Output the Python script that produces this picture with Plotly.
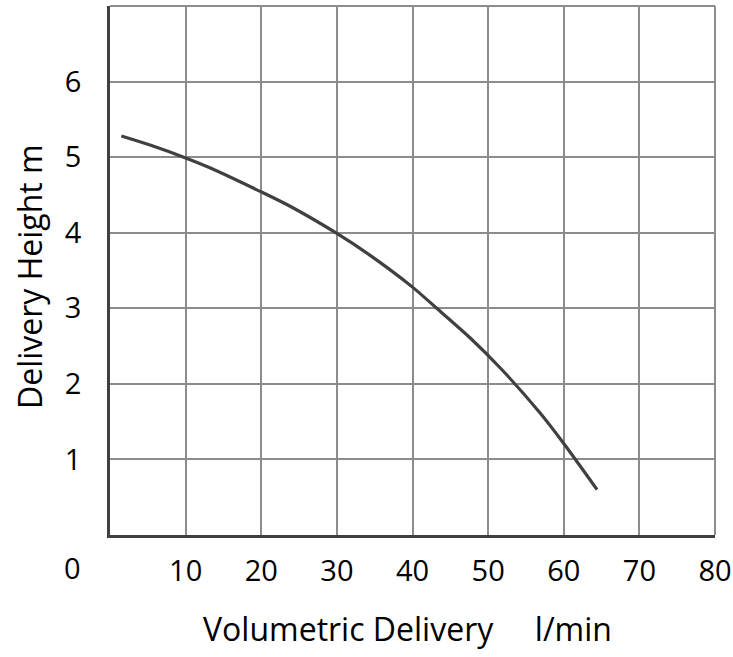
import plotly.graph_objects as go

# Data
flow_lpm = [1.5, 5.3, 10.0, 13.2, 20.0, 24.0, 30.0, 34.4, 40.0, 43.2, 47.6, 51.8, 56.9, 60.0, 64.4]
height_m = [5.28, 5.16, 4.99, 4.86, 4.54, 4.34, 3.99, 3.70, 3.28, 3.00, 2.61, 2.19, 1.61, 1.21, 0.60]

x_tick_vals = [10, 20, 30, 40, 50, 60, 70, 80]
x_tick_text = ["10", "20", "30", "40", "50", "60", "70", "80"]
y_tick_vals = [1, 2, 3, 4, 5, 6]
y_tick_text = ["1", "2", "3", "4", "5", "6"]

FONT = "Open Sans, Liberation Sans, sans-serif"
GRID = "#8c8c8c"
DARK = "#404040"
FS = 29
FT = 32

fig = go.Figure()
fig.add_trace(go.Scatter(
    x=flow_lpm, y=height_m, mode="lines",
    line=dict(color=DARK, width=3.2, shape="spline", smoothing=0.8),
    hoverinfo="skip", showlegend=False,
))

fig.update_layout(
    width=733, height=657,
    margin=dict(l=110, r=18, t=6, b=122, autoexpand=False),
    paper_bgcolor="white", plot_bgcolor="white",
    font=dict(family=FONT, size=FS, color="black"),
    xaxis=dict(
        range=[0, 80], tickvals=x_tick_vals, ticktext=x_tick_text,
        showgrid=True, gridcolor=GRID, gridwidth=1.5,
        showline=True, linecolor=DARK, linewidth=2.5,
        ticks="outside", ticklen=8, tickcolor="rgba(0,0,0,0)",
        zeroline=False, fixedrange=True, automargin=False,
    ),
    yaxis=dict(
        range=[0, 7], tickvals=y_tick_vals, ticktext=y_tick_text,
        showgrid=True, gridcolor=GRID, gridwidth=1.5,
        showline=True, linecolor=DARK, linewidth=2.5,
        ticks="outside", ticklen=20, tickcolor="rgba(0,0,0,0)",
        zeroline=False, fixedrange=True, automargin=False,
    ),
    shapes=[
        dict(type="line", xref="paper", yref="paper", x0=0, x1=1, y0=1, y1=1,
             line=dict(color=GRID, width=2)),
        dict(type="line", xref="paper", yref="paper", x0=1, x1=1, y0=0, y1=1,
             line=dict(color=GRID, width=2)),
    ],
    annotations=[
        dict(text="0", x=0, y=0, xref="x", yref="paper", xanchor="center", yanchor="top",
             xshift=-38, yshift=-11, showarrow=False, font=dict(size=FS)),
        dict(text="Volumetric Delivery\u00a0\u00a0\u00a0\u00a0\u00a0l/min", x=0, y=0,
             xref="paper", yref="paper", xanchor="center", yanchor="middle",
             xshift=297, yshift=-93, showarrow=False, font=dict(size=FT)),
        dict(text="Delivery Height m", x=0, y=0, xref="paper", yref="paper",
             xanchor="center", yanchor="middle", xshift=-81, yshift=258, textangle=-90,
             showarrow=False, font=dict(size=FT)),
    ],
)

fig.write_html(
    "out.html",
    config={"displayModeBar": False},
    post_script="document.body.style.margin='0';document.body.style.padding='0';",
)
